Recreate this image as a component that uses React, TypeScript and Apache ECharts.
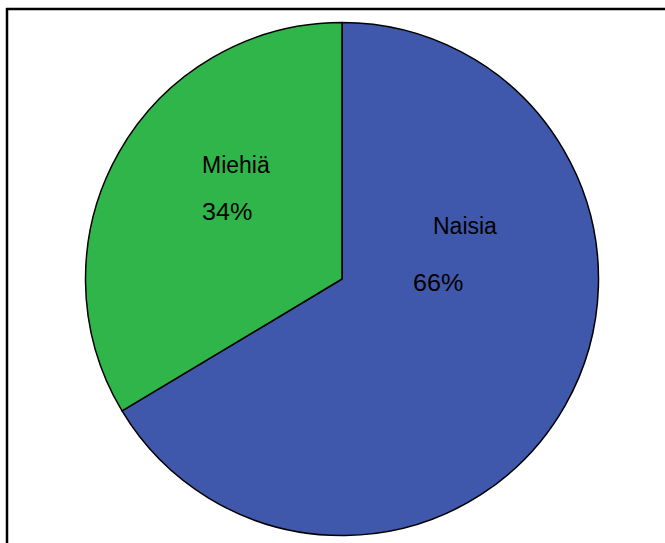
import React, { useEffect, useRef } from "react";
import * as echarts from "echarts";

const categories = ["Naisia", "Miehiä"];
const values = [66.4, 33.6];
const colors = ["#3f58ab", "#2fb54a"];

// label layout (position of name and percentage per slice)
const labelPos = [
  { name: [433, 226], pct: [413, 283] },
  { name: [202, 165], pct: [202, 212] },
];

export default function App() {
  const ref = useRef<HTMLDivElement>(null);
  useEffect(() => {
    if (!ref.current) return;
    const chart = echarts.init(ref.current, null, { renderer: "svg" });
    const total = values.reduce((a, b) => a + b, 0);
    const texts: any[] = [];
    categories.forEach((c, i) => {
      const pct = Math.round((values[i] / total) * 100);
      texts.push({
        type: "text",
        x: labelPos[i].name[0],
        y: labelPos[i].name[1],
        z: 100,
        style: {
          text: c,
          font: '23px "Liberation Sans", Arial, sans-serif',
          fill: "#000",
          textAlign: "left",
          textVerticalAlign: "middle",
        },
      });
      texts.push({
        type: "text",
        x: labelPos[i].pct[0],
        y: labelPos[i].pct[1],
        scaleX: 1.05,
        z: 100,
        style: {
          text: pct + "%",
          font: '24px "Liberation Sans", Arial, sans-serif',
          fill: "#000",
          textAlign: "left",
          textVerticalAlign: "middle",
        },
      });
    });
    chart.setOption({
      animation: false,
      backgroundColor: "#ffffff",
      graphic: [
        {
          type: "line",
          shape: { x1: 6, y1: 9, x2: 665, y2: 9 },
          style: { stroke: "#000", lineWidth: 2.5 },
        },
        {
          type: "line",
          shape: { x1: 7, y1: 8, x2: 7, y2: 543 },
          style: { stroke: "#000", lineWidth: 2.5 },
        },
        ...texts,
      ],
      series: [
        {
          type: "pie",
          center: [342, 279],
          radius: [0, 256.5],
          startAngle: 90,
          clockwise: true,
          label: { show: false },
          labelLine: { show: false },
          emphasis: { disabled: true },
          itemStyle: { borderColor: "#000", borderWidth: 1.5 },
          data: categories.map((c, i) => ({
            name: c,
            value: values[i],
            itemStyle: { color: colors[i] },
          })),
        },
      ],
    });
    return () => chart.dispose();
  }, []);
  return (
    <div
      ref={ref}
      style={{ position: "absolute", left: 0, top: 0, width: 665, height: 543 }}
    />
  );
}
